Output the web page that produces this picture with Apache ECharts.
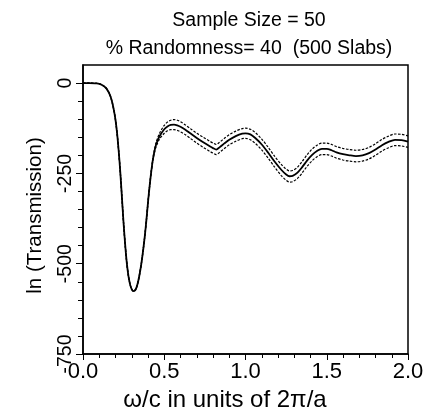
<!DOCTYPE html>
<html><head><meta charset="utf-8">
<script src="https://cdn.jsdelivr.net/npm/echarts@6/dist/echarts.min.js"></script>
<style>html,body{margin:0;padding:0;background:#fff}#chart{width:430px;height:410px}</style>
</head><body><div id="chart"></div>
<script>
const omega = [0.00,0.04,0.08,0.10,0.12,0.14,0.15,0.16,0.17,0.18,0.19,0.20,0.21,0.22,0.23,0.24,0.25,0.26,0.27,0.28,0.29,0.30,0.31,0.32,0.33,0.34,0.35,0.36,0.37,0.38,0.39,0.40,0.41,0.42,0.43,0.44,0.45,0.47,0.50,0.52,0.54,0.56,0.58,0.60,0.63,0.66,0.70,0.74,0.78,0.80,0.82,0.84,0.87,0.90,0.94,0.98,1.00,1.03,1.06,1.10,1.14,1.18,1.22,1.25,1.27,1.29,1.32,1.35,1.38,1.41,1.44,1.47,1.50,1.53,1.56,1.60,1.64,1.68,1.72,1.76,1.80,1.84,1.88,1.92,1.96,2.00];
const lnT = [0,0,-1,-2,-6,-13,-19,-27,-38,-54,-75,-102,-140,-190,-250,-320,-390,-450,-500,-535,-558,-571,-576,-574,-565,-548,-525,-497,-463,-425,-380,-330,-285,-245,-212,-188,-170,-148,-128,-120,-116,-115,-117,-121,-129,-139,-152,-164,-175,-180,-184,-178,-167,-157,-147,-140,-139,-142,-152,-170,-193,-218,-240,-253,-258,-257,-248,-232,-214,-199,-188,-182,-182,-186,-192,-197,-200,-202,-200,-194,-184,-172,-163,-157,-158,-162];
const lnTUpper = [0,0,-1,-2,-6,-13,-19,-27,-38,-54,-75,-102,-140,-190,-250,-320,-390,-450,-500,-535,-558,-571,-576,-574,-565,-548,-525,-497,-463,-425,-380,-330,-285,-245,-210,-184,-164,-140,-117,-108,-103,-101,-103,-107,-116,-126,-139,-150,-161,-166,-170,-164,-153,-143,-133,-126,-125,-128,-137,-155,-178,-203,-225,-238,-243,-242,-233,-216,-198,-183,-172,-166,-166,-170,-176,-181,-184,-186,-184,-178,-168,-156,-147,-141,-142,-146];
const lnTLower = [0,0,-1,-2,-6,-13,-19,-27,-38,-54,-75,-102,-140,-190,-250,-320,-390,-450,-500,-535,-558,-571,-576,-574,-565,-548,-525,-497,-463,-425,-380,-330,-285,-245,-214,-192,-176,-156,-139,-132,-129,-129,-131,-135,-143,-153,-166,-178,-189,-194,-198,-192,-181,-171,-161,-154,-153,-157,-167,-185,-208,-233,-256,-269,-274,-273,-264,-248,-230,-215,-204,-198,-198,-202,-208,-213,-216,-218,-216,-210,-200,-188,-179,-173,-174,-178];
const xTicks = [0, 0.5, 1, 1.5, 2];
const yTicks = [-750, -500, -250, 0];
const titleLines = ['Sample Size = 50', '% Randomness= 40  (500 Slabs)'];
const xName = 'ω/c in units of 2π/a';
const yName = 'ln (Transmission)';

const FONT = "'Liberation Sans', Arial, Helvetica, sans-serif";
const pairs = v => omega.map((x, i) => [x, v[i]]);
const black = '#000';

const chart = echarts.init(document.getElementById('chart'), null, {renderer: 'canvas'});
chart.setOption({
  animation: false,
  backgroundColor: '#fff',
  title: [
    {text: titleLines[0], left: 249, top: 11, textAlign: 'center', padding: 0,
     textStyle: {fontFamily: FONT, fontSize: 19.5, fontWeight: 'normal', color: black}},
    {text: titleLines[1], left: 249, top: 39, textAlign: 'center', padding: 0,
     textStyle: {fontFamily: FONT, fontSize: 19.5, fontWeight: 'normal', color: black}}
  ],
  grid: {left: 83, right: 22, top: 65, bottom: 56, containLabel: false, outerBoundsMode: 'none',
         show: true, borderColor: black, borderWidth: 1.5, backgroundColor: 'transparent'},
  xAxis: {
    type: 'value', min: 0, max: 2, interval: 0.5,
    name: xName, nameLocation: 'middle', nameGap: 30,
    nameTextStyle: {fontFamily: FONT, fontSize: 24, color: black, padding: [0, 41, 0, 0]},
    axisLine: {show: true, onZero: false, lineStyle: {color: black, width: 1.5}},
    axisTick: {show: true, length: 6, lineStyle: {color: black, width: 1}},
    minorTick: {show: true, splitNumber: 5, length: 4, lineStyle: {color: black, width: 1}},
    axisLabel: {customValues: xTicks, fontFamily: FONT, fontSize: 22, color: black, margin: 7, formatter: v => Number(v).toFixed(1)},
    splitLine: {show: false}, minorSplitLine: {show: false}
  },
  yAxis: {
    type: 'value', min: -750, max: 50, interval: 250,
    name: yName, nameLocation: 'middle', nameRotate: 90, nameGap: 37,
    nameTextStyle: {fontFamily: FONT, fontSize: 20.5, color: black, padding: [0, 12, 0, 0]},
    axisLine: {show: true, onZero: false, lineStyle: {color: black, width: 1.5}},
    axisTick: {show: true, customValues: yTicks, length: 7, lineStyle: {color: black, width: 1}},
    minorTick: {show: true, splitNumber: 5, length: 5, lineStyle: {color: black, width: 1}},
    axisLabel: {customValues: yTicks, rotate: 90, fontFamily: "'Liberation Sans Narrow', " + FONT, fontSize: 19.5, color: black, margin: 7},
    splitLine: {show: false}, minorSplitLine: {show: false}
  },
  series: [
    {type: 'line', name: 'upper', data: pairs(lnTUpper), showSymbol: false, smooth: 0.3,
     lineStyle: {color: black, width: 1.2, type: [2.5, 1.5]}},
    {type: 'line', name: 'lower', data: pairs(lnTLower), showSymbol: false, smooth: 0.3,
     lineStyle: {color: black, width: 1.2, type: [2.5, 1.5]}},
    {type: 'line', name: 'mean', data: pairs(lnT), showSymbol: false, smooth: 0.3,
     lineStyle: {color: black, width: 1.8}}
  ]
});
</script></body></html>
